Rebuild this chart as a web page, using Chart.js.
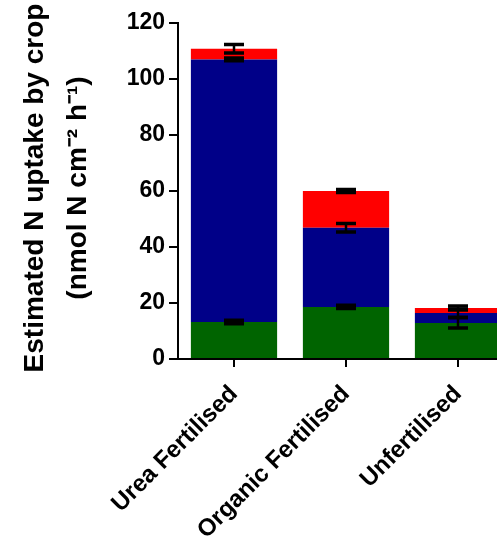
<!DOCTYPE html>
<html>
<head>
<meta charset="utf-8">
<script src="https://cdn.jsdelivr.net/npm/chart.js@4.4.1/dist/chart.umd.min.js"></script>
<style>
  html, body { margin: 0; padding: 0; background: #fff; overflow: hidden; }
  #wrap { width: 516px; height: 544px; }
</style>
</head>
<body>
<div id="wrap"><canvas id="chart" width="516" height="544"></canvas></div>
<script>
const categories = ['Urea Fertilised', 'Organic Fertilised', 'Unfertilised'];

// stacked segments, bottom to top
const greenValues = [13.2, 18.6, 12.9];
const blueValues = [93.8, 28.3, 3.5];
const redValues = [3.8, 13.1, 1.8];

// error (+/-) at the top of each segment
const greenErrors = [0.6, 0.6, 1.8];
const blueErrors = [0.5, 1.5, 1.5];
const redErrors = [1.5, 0.5, 0.7];

const yTicks = [0, 20, 40, 60, 80, 100, 120];
const yTitleLines = ['Estimated N uptake by crop', '(nmol N cm\u207B\u00B2 h\u207B\u00B9)'];

const fontFamily = '"Liberation Sans", Arial, sans-serif';

const errorBarPlugin = {
    id: 'errorBarPlugin',
    afterDatasetsDraw(chart) {
        const {ctx, data, scales: {y}} = chart;
        const errors = [greenErrors, blueErrors, redErrors];
        ctx.save();
        ctx.strokeStyle = '#000';
        data.labels.forEach((label, index) => {
            let total = 0;
            data.datasets.forEach((ds, di) => {
                total += ds.data[index];
                const bar = chart.getDatasetMeta(di).data[index];
                if (!bar) return;
                const err = errors[di][index];
                const yTop = y.getPixelForValue(total + err);
                const yBot = y.getPixelForValue(total - err);
                const half = 10;
                ctx.lineWidth = 2.5;
                ctx.beginPath();
                ctx.moveTo(bar.x, yTop);
                ctx.lineTo(bar.x, yBot);
                ctx.stroke();
                ctx.lineWidth = 3.5;
                ctx.beginPath();
                ctx.moveTo(bar.x - half, yTop);
                ctx.lineTo(bar.x + half, yTop);
                ctx.moveTo(bar.x - half, yBot);
                ctx.lineTo(bar.x + half, yBot);
                ctx.stroke();
            });
        });
        ctx.restore();
    }
};

// axis title drawn by hand: the built-in one squeezes the text to the axis height
const yTitlePlugin = {
    id: 'yTitlePlugin',
    afterDraw(chart) {
        const {ctx, chartArea: {top, bottom}} = chart;
        const cy = (top + bottom) / 2 - 3;
        ctx.save();
        ctx.fillStyle = '#000';
        ctx.font = 'bold 28px ' + fontFamily;
        ctx.textAlign = 'center';
        ctx.textBaseline = 'middle';
        yTitleLines.forEach((line, i) => {
            ctx.save();
            ctx.translate(35 + i * 43, cy);
            ctx.rotate(-Math.PI / 2);
            ctx.fillText(line, 0, 0);
            ctx.restore();
        });
        ctx.restore();
    }
};

new Chart(document.getElementById('chart'), {
    type: 'bar',
    data: {
        labels: categories,
        datasets: [
            {label: 'green', data: greenValues, backgroundColor: '#006400'},
            {label: 'blue', data: blueValues, backgroundColor: '#000088'},
            {label: 'red', data: redValues, backgroundColor: '#ff0000'}
        ]
    },
    options: {
        responsive: false,
        animation: false,
        layout: {padding: {top: 23, right: 2, left: 0, bottom: 0}},
        datasets: {bar: {barPercentage: 0.77, categoryPercentage: 1.0}},
        plugins: {legend: {display: false}, tooltip: {enabled: false}},
        scales: {
            x: {
                stacked: true,
                afterFit(scale) { scale.height = 185; },
                border: {color: '#000', width: 2},
                grid: {offset: false, drawOnChartArea: false, color: '#000', tickColor: '#000', tickLength: 8, lineWidth: 2},
                ticks: {
                    color: '#000',
                    maxRotation: 45,
                    minRotation: 45,
                    padding: 13,
                    font: {family: fontFamily, size: 24, weight: 'bold'}
                }
            },
            y: {
                stacked: true,
                min: 0,
                max: 120,
                afterFit(scale) { scale.width = 178; },
                afterBuildTicks(scale) { scale.ticks = yTicks.map(v => ({value: v})); },
                border: {color: '#000', width: 2},
                grid: {drawOnChartArea: false, color: '#000', tickColor: '#000', tickLength: 9, lineWidth: 2},
                ticks: {
                    color: '#000',
                    padding: 4,
                    font: {family: fontFamily, size: 23, weight: 'bold'}
                }
            }
        }
    },
    plugins: [errorBarPlugin, yTitlePlugin]
});
</script>
</body>
</html>
